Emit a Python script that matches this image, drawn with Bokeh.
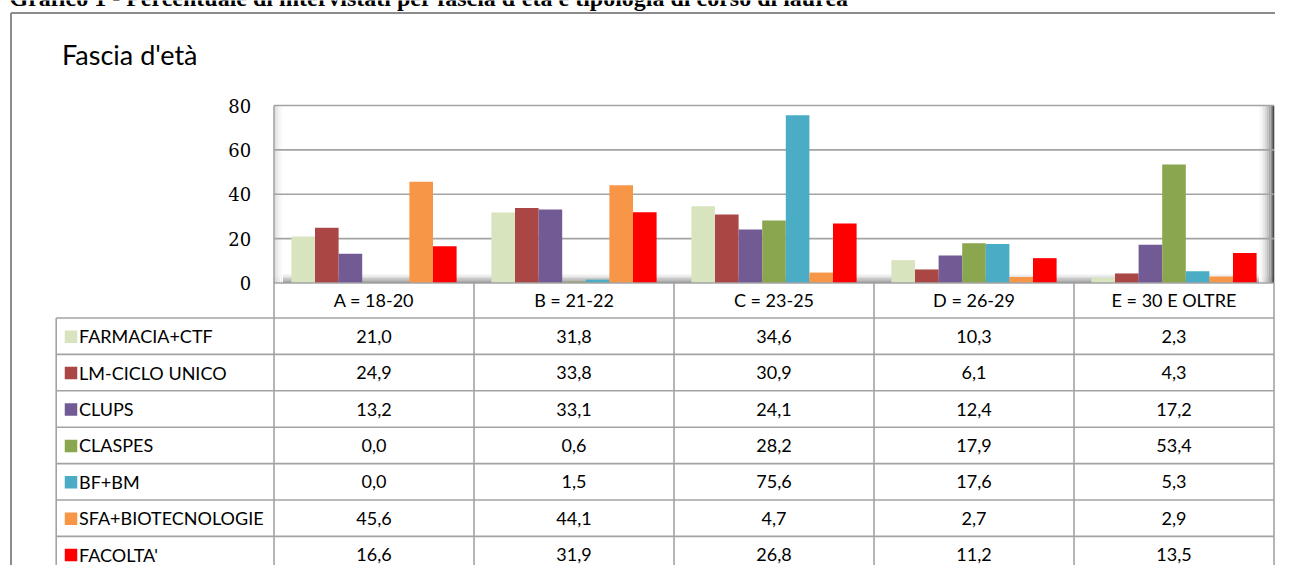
from bokeh.plotting import figure
from bokeh.models import Range1d, ColumnDataSource
from bokeh.core.properties import value
from bokeh.embed import file_html
from bokeh.resources import INLINE

# ---------------- data ----------------
page_title = "Grafico 1 - Percentuale di intervistati per fascia d'età e tipologia di corso di laurea"
chart_title = "Fascia d'età"
categories = ["A = 18-20", "B = 21-22", "C = 23-25", "D = 26-29", "E = 30 E OLTRE"]
series_names = ["FARMACIA+CTF", "LM-CICLO UNICO", "CLUPS", "CLASPES", "BF+BM",
                "SFA+BIOTECNOLOGIE", "FACOLTA'"]
farmacia_ctf = [21.0, 31.8, 34.6, 10.3, 2.3]
lm_ciclo_unico = [24.9, 33.8, 30.9, 6.1, 4.3]
clups = [13.2, 33.1, 24.1, 12.4, 17.2]
claspes = [0.0, 0.6, 28.2, 17.9, 53.4]
bf_bm = [0.0, 1.5, 75.6, 17.6, 5.3]
sfa_biotecnologie = [45.6, 44.1, 4.7, 2.7, 2.9]
facolta = [16.6, 31.9, 26.8, 11.2, 13.5]
y_ticks = [0, 20, 40, 60, 80]

series_values = [farmacia_ctf, lm_ciclo_unico, clups, claspes, bf_bm, sfa_biotecnologie, facolta]
series_colors = ["#d7e4bd", "#aa4643", "#725a94", "#8aa64f", "#4bacc6", "#f79646", "#ff0000"]

# ---------------- layout (picture pixel positions) ----------------
W, H = 1275, 565
PLOT_L, PLOT_R = 273.5, 1273.5
GROUP_W = (PLOT_R - PLOT_L) / len(categories)
Y0_PX, YTOP_PX = 282.5, 105.0
PX_PER_UNIT = (Y0_PX - YTOP_PX) / 80.0
BAR_W = 23.6 / GROUP_W
TABLE_L = 55.7
ROW_TOP = 317.5
ROW_H = 36.4
GRID_COLOR = "#a3a3a3"
FONT = value("Lato")

p = figure(width=W, height=H, output_backend="svg", toolbar_location=None,
           x_range=Range1d(0, W), y_range=Range1d(H, 0),
           x_axis_type=None, y_axis_type=None, min_border=0,
           outline_line_color=None, background_fill_color="white",
           border_fill_color="white")
p.extra_x_ranges = {"cat": Range1d((0 - PLOT_L) / GROUP_W, (W - PLOT_L) / GROUP_W)}
p.extra_y_ranges = {"val": Range1d((Y0_PX - H) / PX_PER_UNIT, Y0_PX / PX_PER_UNIT)}
p.grid.visible = False

# page title (cut at top, as in the reference)
p.text(x=[9], y=[-3], text=[page_title], text_font=value("Liberation Serif"),
       text_font_style="bold", text_font_size="24px", text_baseline="alphabetic",
       text_align="left", text_color="#000000")

# outer box
p.segment(x0=[10.5, 10.5], y0=[12.5, 12.5], x1=[10.5, W + 5], y1=[H + 5, 12.5],
          line_color="#8c8c8c", line_width=2)

# chart title
p.text(x=[61.5], y=[54], text=[chart_title], text_font=FONT, text_font_size="27px",
       text_baseline="middle", text_align="left", text_color="#000000")

# 3D-like walls: floor, left wall, right wall
floor_cols = ["#f6f6f6", "#ebebeb", "#dcdcdc", "#c9c9c9", "#b3b3b3", "#9c9c9c", "#8a8a8a"]
n = len(floor_cols)
fy = [273.5 + i * (Y0_PX - 273.5) / n for i in range(n + 1)]
p.quad(left=[PLOT_L] * n, right=[PLOT_R] * n, top=fy[:-1], bottom=fy[1:],
       fill_color=floor_cols, line_color=None)
right_cols = ["#fbfbfb", "#f3f3f3", "#e6e6e6", "#d5d5d5", "#c0c0c0", "#a8a8a8", "#8f8f8f"]
m = len(right_cols)
rx = [PLOT_R - 15 + i * 13.5 / m for i in range(m + 1)]
p.quad(left=rx[:-1], right=rx[1:], top=[YTOP_PX] * m, bottom=[Y0_PX] * m,
       fill_color=right_cols, line_color=None)
left_cols = ["#dedede", "#e9e9e9", "#f1f1f1", "#f7f7f7", "#fcfcfc"]
q = len(left_cols)
lx = [PLOT_L + 1 + i * 1.6 for i in range(q + 1)]
p.quad(left=lx[:-1], right=lx[1:], top=[YTOP_PX] * q, bottom=[Y0_PX] * q,
       fill_color=left_cols, line_color=None)
p.segment(x0=[PLOT_R - 0.7], y0=[YTOP_PX], x1=[PLOT_R - 0.7], y1=[Y0_PX],
          line_color="#4a4a4a", line_width=2)

# gridlines (value ticks)
gt = [t for t in y_ticks if t > 0]
p.segment(x0=[0] * len(gt), x1=[5] * len(gt), y0=gt, y1=gt, x_range_name="cat",
          y_range_name="val", line_color=GRID_COLOR, line_width=1.6)

# bars
k_mid = (len(series_names) - 1) / 2
for k, (vals, col) in enumerate(zip(series_values, series_colors)):
    src = ColumnDataSource(dict(x=[i + 0.5 + (k - k_mid) * BAR_W for i in range(len(categories))],
                                top=vals))
    p.vbar(x="x", top="top", bottom=0, width=BAR_W, source=src, fill_color=col,
           line_color=None, x_range_name="cat", y_range_name="val")

# y tick labels
p.text(x=[250.7] * len(y_ticks), y=y_ticks, text=[str(t) for t in y_ticks], y_range_name="val",
       text_font=value("DejaVu Serif"), text_font_size="18px", text_align="right",
       text_baseline="middle", text_color="#000000")

# ------------- data table -------------
nb = len(categories) + 1
table_bottom = ROW_TOP + ROW_H * len(series_names)
p.segment(x0=list(range(nb)), x1=list(range(nb)), y0=[YTOP_PX] + [Y0_PX] * (nb - 1),
          y1=[table_bottom] * nb, x_range_name="cat",
          line_color=GRID_COLOR, line_width=1.6)
p.segment(x0=[0], x1=[5], y0=[Y0_PX], y1=[Y0_PX], x_range_name="cat",
          line_color=GRID_COLOR, line_width=1.6)
rows_y = [ROW_TOP + ROW_H * r for r in range(len(series_names) + 1)]
p.segment(x0=[TABLE_L] * len(rows_y), x1=[PLOT_R] * len(rows_y), y0=rows_y, y1=rows_y,
          line_color=GRID_COLOR, line_width=1.6)
p.segment(x0=[TABLE_L], x1=[TABLE_L], y0=[ROW_TOP], y1=[table_bottom],
          line_color=GRID_COLOR, line_width=1.6)

# header
p.text(x=[i + 0.5 for i in range(len(categories))], y=[299.5] * len(categories), text=categories,
       x_range_name="cat", text_font=FONT, text_font_size="18px", text_align="center",
       text_baseline="middle", text_color="#000000")

centers = [ROW_TOP + ROW_H * (r + 0.5) for r in range(len(series_names))]
p.scatter(x=[70.5] * len(series_names), y=[c + 0.5 for c in centers], marker="square", size=12.5,
          fill_color=series_colors, line_color=None)
p.text(x=[78.5] * len(series_names), y=centers, text=series_names, text_font=FONT,
       text_font_size="18px", text_align="left", text_baseline="middle", text_color="#000000")

for r, vals in enumerate(series_values):
    p.text(x=[i + 0.5 for i in range(len(vals))], y=[centers[r]] * len(vals),
           text=[f"{v:.1f}".replace(".", ",") for v in vals], x_range_name="cat",
           text_font=FONT, text_font_size="18px", text_align="center",
           text_baseline="middle", text_color="#000000")

open("out.html", "w").write(file_html(p, INLINE))
